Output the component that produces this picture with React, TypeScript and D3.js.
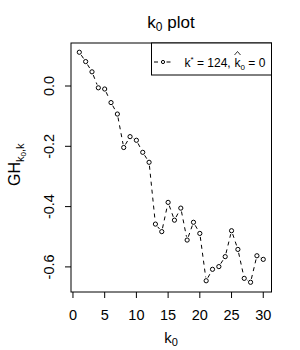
import React from "react";
import * as d3 from "d3";

// k0 values and GH statistic
const k0 = [1, 2, 3, 4, 5, 6, 7, 8, 9, 10, 11, 12, 13, 14, 15, 16, 17, 18, 19, 20, 21, 22, 23, 24, 25, 26, 27, 28, 29, 30];
const gh = [0.112, 0.081, 0.047, -0.006, -0.01, -0.055, -0.093, -0.204, -0.168, -0.18, -0.22, -0.253, -0.458, -0.483, -0.386,
  -0.445, -0.405, -0.511, -0.452, -0.489, -0.646, -0.608, -0.599, -0.566, -0.48, -0.542, -0.638, -0.651, -0.563, -0.575];
const xTicks = [0, 5, 10, 15, 20, 25, 30];
const yTicks = [0.0, -0.2, -0.4, -0.6];

const W = 300, H = 350;
const left = 71, right = 271.5, top = 43, bottom = 292;
const font = "'Liberation Sans', Arial, sans-serif";

export default function App() {
  const x = d3.scaleLinear().domain([-0.31, 31.3]).range([left, right]);
  const y = d3.scaleLinear().domain([0, -0.6]).range([86, 266.9]);
  const pts = k0.map((k, i) => [x(k), y(gh[i])] as [number, number]);

  // type = "b": segments with gaps around the points
  const gap = 3.5;
  const segs: string[] = [];
  for (let i = 0; i < pts.length - 1; i++) {
    const [x1, y1] = pts[i];
    const [x2, y2] = pts[i + 1];
    const len = Math.hypot(x2 - x1, y2 - y1);
    if (len <= gap * 2) continue;
    const ux = (x2 - x1) / len, uy = (y2 - y1) / len;
    segs.push(d3.line()([[x1 + ux * gap, y1 + uy * gap], [x2 - ux * gap, y2 - uy * gap]]) as string);
  }

  const legY = 62;
  const hatX = 237.5;

  return (
    <svg width={W} height={H} style={{ position: "absolute", left: 0, top: 0 }} fontFamily={font}>
      <rect x={0} y={0} width={W} height={H} fill="#fff" />
      <text x={171} y={28} textAnchor="middle" fontSize={17}>
        k<tspan fontSize={12} dy={3}>0</tspan><tspan dy={-3}> plot</tspan>
      </text>

      {segs.map((d, i) => (
        <path key={i} d={d} stroke="#000" strokeWidth={1} strokeDasharray="4,4" fill="none" />
      ))}
      {pts.map(([px, py], i) => (
        <circle key={i} cx={px} cy={py} r={2.1} fill="none" stroke="#000" strokeWidth={1} />
      ))}

      <rect x={left} y={top} width={right - left} height={bottom - top} fill="none" stroke="#000" strokeWidth={1} />

      {xTicks.map(t => (
        <g key={t}>
          <line x1={x(t)} x2={x(t)} y1={bottom} y2={bottom + 6} stroke="#000" />
          <text x={x(t)} y={319.5} textAnchor="middle" fontSize={14.5}>{t}</text>
        </g>
      ))}
      {yTicks.map(t => (
        <g key={t}>
          <line x1={left - 6} x2={left} y1={y(t)} y2={y(t)} stroke="#000" />
          <text transform={`translate(53.5,${y(t)}) rotate(-90)`} textAnchor="middle" fontSize={14.5}>
            {t === 0 ? "0.0" : d3.format(".1f")(t).replace("−", "-")}
          </text>
        </g>
      ))}

      <text x={171} y={343} textAnchor="middle" fontSize={15}>
        k<tspan fontSize={11} dy={3}>0</tspan>
      </text>
      <text transform={`translate(19.5,186) rotate(-90)`} textAnchor="start" fontSize={16}>
        GH<tspan fontSize={11} dy={4}>k</tspan><tspan fontSize={8} dy={2}>0</tspan><tspan fontSize={11} dy={-2}>,k</tspan>
      </text>

      <rect x={151.5} y={top} width={right - 151.5} height={75 - top} fill="#fff" stroke="#000" />
      <path d={d3.line()([[154, legY], [159.5, legY]]) as string} stroke="#000" strokeDasharray="4,4" />
      <path d={d3.line()([[166.5, legY], [172, legY]]) as string} stroke="#000" strokeDasharray="4,4" />
      <circle cx={163} cy={legY} r={1.6} fill="none" stroke="#000" />
      <text x={184.5} y={67} fontSize={12}>
        k<tspan fontSize={8} dy={-5}>*</tspan><tspan dy={5}> = 124,</tspan>
      </text>
      <text x={234.5} y={67} fontSize={12}>
        k<tspan fontSize={8} dy={3}>0</tspan><tspan dy={-3}> = 0</tspan>
      </text>
      <path d={`M${hatX - 3},${55} L${hatX},${51.5} L${hatX + 3},${55}`} stroke="#000" fill="none" strokeWidth={0.8} />
    </svg>
  );
}
